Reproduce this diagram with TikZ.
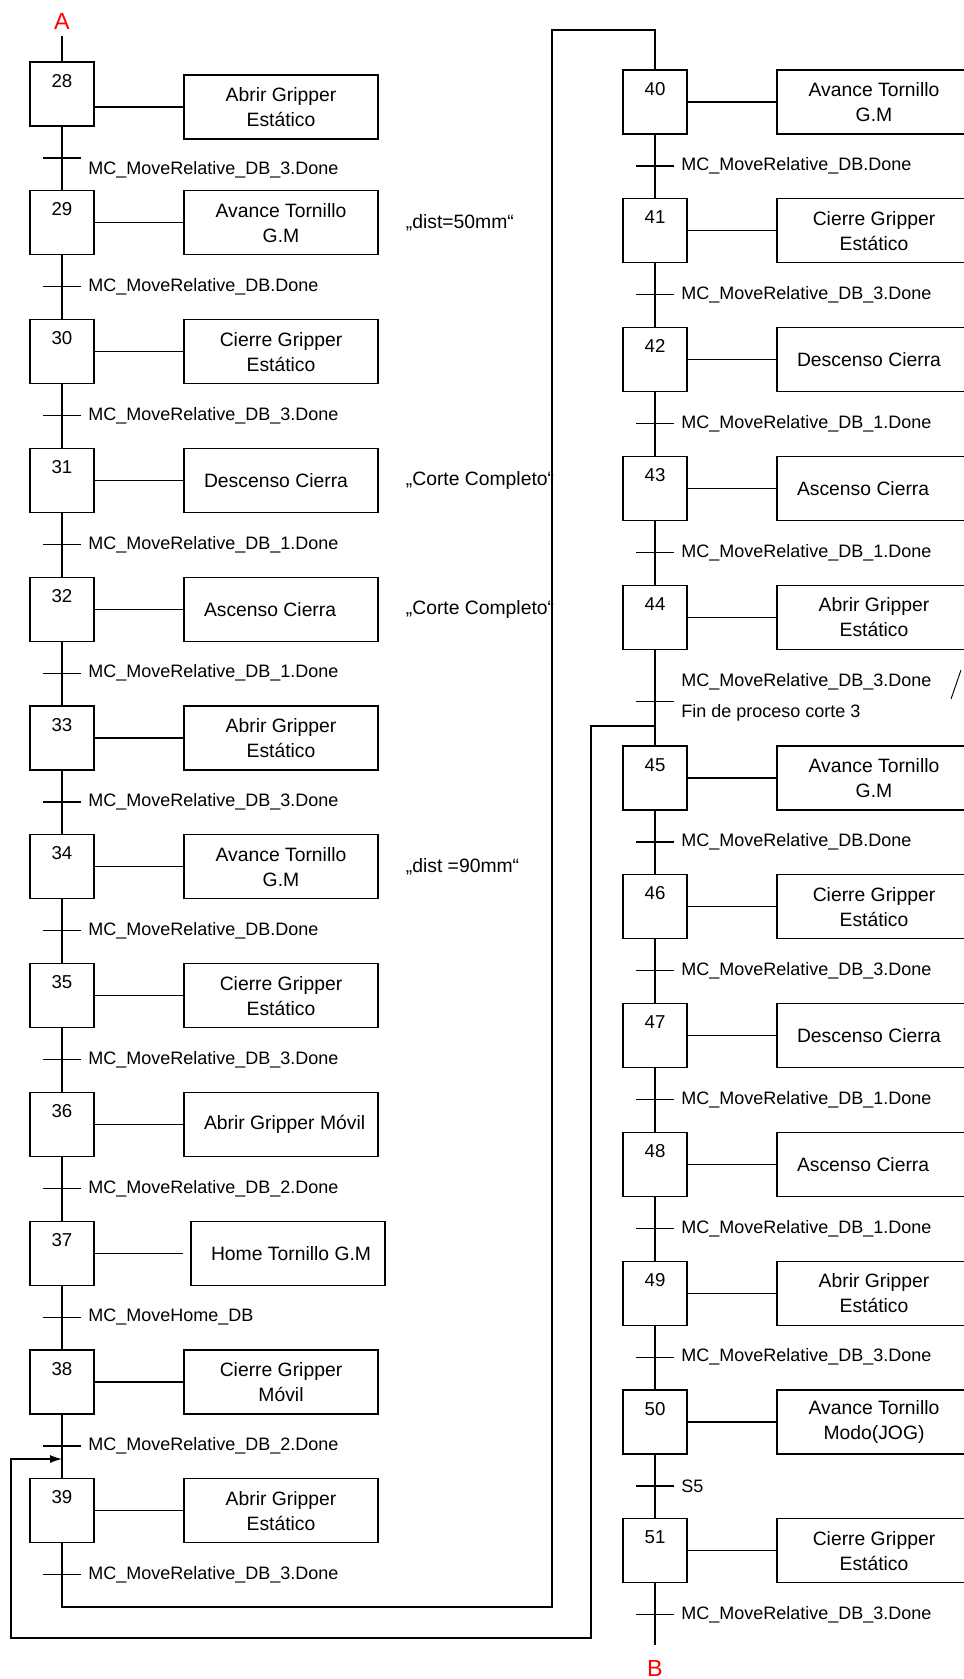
\documentclass[tikz,border=0pt]{standalone}
\usepackage{fontspec}
\setmainfont{Liberation Sans}
\usetikzlibrary{arrows.meta, positioning, calc}

\tikzset{
  grafcet/.style={x=0.75pt, y=-0.75pt, line width=0.9pt,
    every node/.append style={font=\fontsize{13.5pt}{18pt}\selectfont}},
  stepbox/.style={draw, minimum width=48pt, inner sep=0pt,
    text height=18.75pt, text depth=29.25pt, font=\fontsize{14pt}{18pt}\selectfont},
  actbox/.style={draw, minimum width=145.5pt, minimum height=48pt, inner sep=0pt,
    align=center, font=\fontsize{14.5pt}{18.75pt}\selectfont},
  actone/.style={draw, minimum width=145.5pt, minimum height=48pt,
    inner xsep=15pt, inner ysep=0pt, font=\fontsize{14.5pt}{18.75pt}\selectfont,
    execute at begin node={\hbox to 115.5pt\bgroup},
    execute at end node={\hss\egroup}},
  trlabel/.style={anchor=west, inner sep=5pt, align=left},
  note/.style={inner sep=0pt, font=\fontsize{14.5pt}{18pt}\selectfont},
  endmark/.style={text=red, inner sep=5pt, font=\fontsize{17.5pt}{20pt}\selectfont}
}

\begin{document}
\begin{tikzpicture}[grafcet]
  \useasboundingbox (0,0) rectangle (964,1679);
  \clip (0,0) rectangle (964,1679);

  % left column, steps 28 to 39
  \foreach \n/\dx/\dy/\kind/\txt/\tr in {
    28/0/13/actbox/{Abrir Gripper\\Estático}/{MC\_MoveRelative\_DB\_3.Done},
    29/0/0/actbox/{Avance Tornillo\\G.M}/{MC\_MoveRelative\_DB.Done},
    30/0/0/actbox/{Cierre Gripper\\Estático}/{MC\_MoveRelative\_DB\_3.Done},
    31/0/0/actone/{Descenso Cierra}/{MC\_MoveRelative\_DB\_1.Done},
    32/0/0/actone/{Ascenso Cierra}/{MC\_MoveRelative\_DB\_1.Done},
    33/0/0/actbox/{Abrir Gripper\\Estático}/{MC\_MoveRelative\_DB\_3.Done},
    34/0/0/actbox/{Avance Tornillo\\G.M}/{MC\_MoveRelative\_DB.Done},
    35/0/0/actbox/{Cierre Gripper\\Estático}/{MC\_MoveRelative\_DB\_3.Done},
    36/0/0/actone/{Abrir Gripper Móvil}/{MC\_MoveRelative\_DB\_2.Done},
    37/7/0/actone/{Home Tornillo G.M}/{MC\_MoveHome\_DB},
    38/0/0/actbox/{Cierre Gripper\\Móvil}/{MC\_MoveRelative\_DB\_2.Done},
    39/0/0/actbox/{Abrir Gripper\\Estático}/{MC\_MoveRelative\_DB\_3.Done}}{
    \pgfmathsetmacro\ty{94+(\n-28)*128.8}
    \node[stepbox] (s\n) at (62,\ty) {\n};
    \node[\kind] (a\n) at (281+\dx,\ty+\dy) {\txt};
    \draw (s\n.east |- a\n) -- ($(a\n.west)-(\dx,0)$);
    \coordinate (t\n) at (62,\ty+64);
    \draw ([xshift=-14.25pt]t\n) -- ([xshift=14.25pt]t\n)
      node[trlabel, yshift={-9pt*(\n==28)}] {\tr};
  }

  % right column, steps 40 to 51
  \foreach \n/\kind/\txt/\tr in {
    40/actbox/{Avance Tornillo\\G.M}/{MC\_MoveRelative\_DB.Done},
    41/actbox/{Cierre Gripper\\Estático}/{MC\_MoveRelative\_DB\_3.Done},
    42/actone/{Descenso Cierra}/{MC\_MoveRelative\_DB\_1.Done},
    43/actone/{Ascenso Cierra}/{MC\_MoveRelative\_DB\_1.Done},
    44/actbox/{Abrir Gripper\\Estático}/{MC\_MoveRelative\_DB\_3.Done\\[4.75pt]Fin de proceso corte 3},
    45/actbox/{Avance Tornillo\\G.M}/{MC\_MoveRelative\_DB.Done},
    46/actbox/{Cierre Gripper\\Estático}/{MC\_MoveRelative\_DB\_3.Done},
    47/actone/{Descenso Cierra}/{MC\_MoveRelative\_DB\_1.Done},
    48/actone/{Ascenso Cierra}/{MC\_MoveRelative\_DB\_1.Done},
    49/actbox/{Abrir Gripper\\Estático}/{MC\_MoveRelative\_DB\_3.Done},
    50/actbox/{Avance Tornillo\\Modo(JOG)}/{S5},
    51/actbox/{Cierre Gripper\\Estático}/{MC\_MoveRelative\_DB\_3.Done}}{
    \pgfmathsetmacro\ty{102+(\n-40)*128.8+32*(\n>44)}
    \pgfmathsetmacro\tk{\ty+64+20*(\n==44)}
    \node[stepbox] (s\n) at (655,\ty) {\n};
    \node[\kind] (a\n) at (874,\ty) {\txt};
    \draw (s\n.east |- a\n) -- (a\n.west);
    \coordinate (t\n) at (655,\tk);
    \draw ([xshift=-14.25pt]t\n) -- ([xshift=14.25pt]t\n)
      node[trlabel, yshift={3pt*(\n==44)}] {\tr};
  }

  \foreach \n [evaluate=\n as \m using int(\n+1)] in {28,...,38}
    \draw (s\n) -- (s\m);
  \foreach \n [evaluate=\n as \m using int(\n+1)] in {40,...,50}
    \draw (s\n) -- (s\m);

  % remarks beside the actions
  \node[note, right=20pt of a29] (n29) {„dist=50mm“};
  \node[note, right=20pt of a31] (n31) {„Corte Completo“};
  \node[note, right=20pt of a32] (n32) {„Corte Completo“};
  \node[note, right=20pt of a34] (n34) {„dist =90mm“};

  % entry and exit
  \node[endmark] (A) at (62,21) {A};
  \node[endmark] (B) at (655,1668) {B};
  \draw (A) -- (s28);
  \draw[shorten >=6pt] (s51) -- (B);

  % jumps between the columns
  \coordinate (la) at (552,1607);
  \coordinate (lb) at (655,30);
  \draw (s39) |- (la) |- (lb) -- (s40);

  \coordinate (j44) at (655,726);
  \coordinate (lc) at (591,1638);
  \coordinate (ld) at (11,1459);
  \coordinate (j38) at (62,1459);
  \draw[-{Latex[length=9pt,width=6pt]}] (j44) -| (lc) -| (ld) -- (j38);

  \draw[line width=0.7pt] (961,670) -- (951,699);
\end{tikzpicture}
\end{document}
